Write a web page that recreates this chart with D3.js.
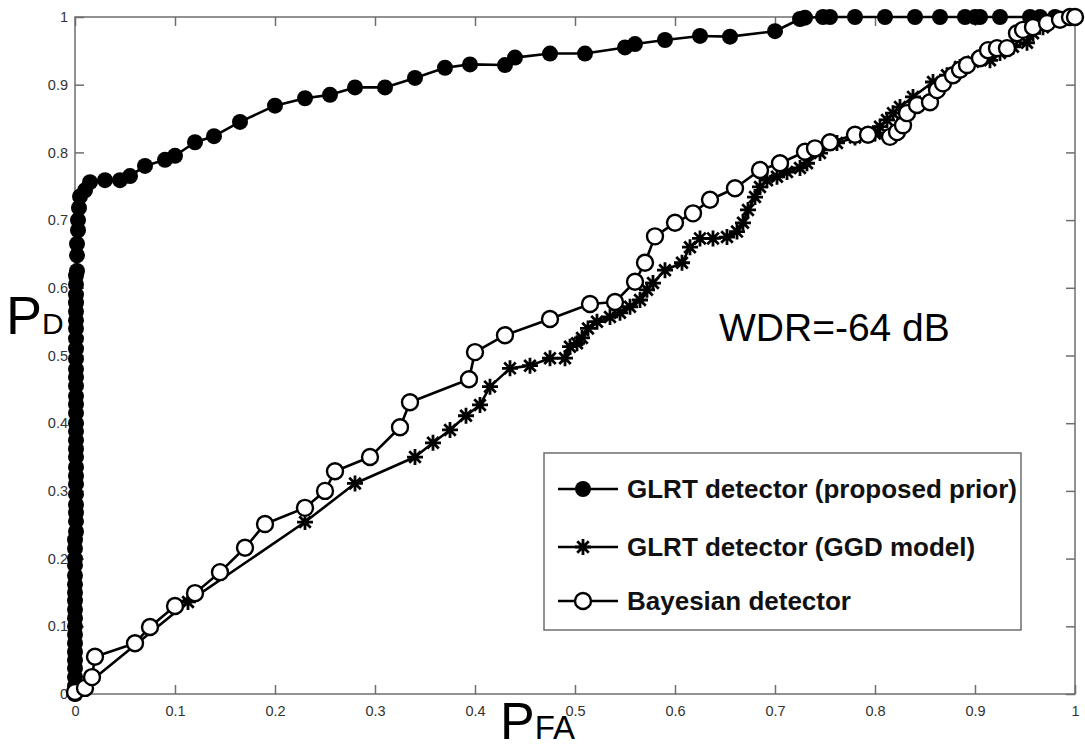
<!DOCTYPE html>
<html>
<head>
<meta charset="utf-8">
<script src="https://cdn.jsdelivr.net/npm/d3@7"></script>
<style>
  body { margin: 0; background: white; }
  svg { display: block; }
</style>
</head>
<body>
<div id="main"></div>
<script>
// ---- data ----
const glrtPriorPfa = [0,0,0,0,0,0,0,0,0,0,0,0,0,0,0,0,0,0,0,
    0.001,0.001,0.001,0.001,0.001,0.001,0.001,0.001,0.001,0.001,0.001,0.001,0.001,0.001,0.001,0.001,0.001,0.001,0.001,0.001,0.001,0.001,0.001,0.001,0.001,0.001,0.001,0.001,0.001,
    0.002,0.002,0.002,0.003,0.003,0.004,0.005,0.01,0.015,0.03,0.045,0.055,0.07,0.09,0.1,0.12,0.139,0.165,0.2,0.23,0.255,0.28,0.31,0.34,0.37,0.395,0.43,0.44,0.475,0.51,0.55,0.56,0.59,0.625,0.655,0.7,0.725,
    0.73,0.748,0.755,0.78,0.81,0.84,0.865,0.89,0.9,0.905,0.925,0.955,0.965,0.98,1];
const glrtPriorPd = [0,0.012,0.025,0.038,0.05,0.062,0.075,0.088,0.1,0.112,0.125,0.138,0.15,0.162,0.175,0.19,0.2,0.215,0.228,
    0.24,0.255,0.268,0.28,0.295,0.31,0.322,0.335,0.35,0.362,0.375,0.388,0.4,0.415,0.428,0.44,0.455,0.468,0.48,0.495,0.51,0.525,0.54,0.552,0.565,0.578,0.59,0.605,0.618,
    0.625,0.648,0.665,0.685,0.7,0.718,0.735,0.744,0.756,0.759,0.759,0.765,0.78,0.789,0.795,0.815,0.824,0.845,0.869,0.88,0.885,0.896,0.896,0.91,0.925,0.93,0.929,0.94,0.946,0.946,0.955,0.96,0.966,0.972,0.971,0.979,0.997,
    0.999,1,1,1,1,1,1,1,1,1,1,1,1,1,1];

const glrtGgdPfa = [0,0.113,0.23,0.28,0.34,0.358,0.375,0.391,0.405,0.415,0.435,0.455,0.475,0.49,0.495,0.502,0.507,0.513,0.522,0.535,0.545,0.555,0.565,0.572,0.578,0.59,0.607,0.615,0.625,0.638,0.652,0.662,0.668,0.673,0.68,0.685,0.692,0.702,0.712,0.725,0.732,0.745,0.762,0.78,0.8,0.805,0.812,0.818,0.825,0.838,0.858,0.872,0.885,0.898,0.915,0.925,0.938,0.952,0.958,0.968,0.985,0.998];
const glrtGgdPd = [0,0.136,0.254,0.311,0.35,0.371,0.39,0.411,0.427,0.454,0.481,0.485,0.496,0.496,0.513,0.518,0.526,0.54,0.55,0.557,0.563,0.572,0.582,0.597,0.607,0.626,0.637,0.66,0.673,0.673,0.675,0.683,0.696,0.715,0.734,0.749,0.759,0.764,0.771,0.777,0.784,0.799,0.814,0.822,0.828,0.838,0.848,0.858,0.867,0.882,0.904,0.914,0.926,0.934,0.936,0.947,0.956,0.962,0.976,0.985,0.996,1];

const bayesPfa = [0,0.01,0.017,0.02,0.06,0.075,0.1,0.12,0.145,0.17,0.19,0.23,0.25,0.26,0.295,0.325,0.335,0.394,0.4,0.43,0.475,0.515,0.54,0.56,0.57,0.58,0.6,0.618,0.635,0.66,0.685,0.705,0.73,0.74,0.755,0.78,0.793,0.815,0.822,0.828,0.832,0.842,0.855,0.862,0.868,0.878,0.885,0.892,0.905,0.913,0.922,0.932,0.942,0.948,0.958,0.972,0.985,0.995,1];
const bayesPd = [0.003,0.009,0.025,0.055,0.075,0.099,0.13,0.149,0.18,0.216,0.251,0.275,0.3,0.329,0.35,0.394,0.431,0.465,0.505,0.53,0.554,0.576,0.579,0.609,0.637,0.676,0.696,0.71,0.73,0.747,0.774,0.784,0.801,0.806,0.815,0.826,0.826,0.823,0.83,0.84,0.858,0.87,0.874,0.892,0.902,0.914,0.922,0.929,0.939,0.951,0.954,0.954,0.976,0.981,0.985,0.991,0.996,1,1];

const xTicks = [0, 0.1, 0.2, 0.3, 0.4, 0.5, 0.6, 0.7, 0.8, 0.9, 1];
const yTicks = [0, 0.1, 0.2, 0.3, 0.4, 0.5, 0.6, 0.7, 0.8, 0.9, 1];
const legendLabels = ["GLRT detector (proposed prior)", "GLRT detector (GGD model)", "Bayesian detector"];
const legendMarkers = ["dot", "star", "ring"];
const annotation = "WDR=-64 dB";

const ctx = {
    width : 1085,
    height : 744,
    left : 75,
    right : 1075,
    top : 17,
    bottom : 694,
    axisGrey : "#6e6e6e",
    labelGrey : "#333",
    font : "'Liberation Sans', Arial, Helvetica, sans-serif",
    markerR : 8,
    lineW : 2.6
}

function createViz(){
    let svg = d3.select("#main").append("svg")
        .attr("width", ctx.width)
        .attr("height", ctx.height);
    svg.append("rect")
        .attr("width", ctx.width)
        .attr("height", ctx.height)
        .attr("fill", "white");

    ctx.x = d3.scaleLinear().domain([0, 1]).range([ctx.left, ctx.right]);
    ctx.y = d3.scaleLinear().domain([0, 1]).range([ctx.bottom, ctx.top]);

    svg.append("g").attr("id", "axesG");
    svg.append("g").attr("id", "seriesG");
    svg.append("g").attr("id", "labelsG");
    svg.append("g").attr("id", "legendG");

    drawAxes();
    drawSeries(d3.zip(glrtPriorPfa, glrtPriorPd), "dot");
    drawSeries(d3.zip(glrtGgdPfa, glrtGgdPd), "star");
    drawSeries(d3.zip(bayesPfa, bayesPd), "ring");
    drawLabels();
    drawLegend();
}

//---------------------------------------------------------------------------------------------------------

function drawAxes(){
    let g = d3.select("#axesG");
    let tickLen = 9;
    let fmt = d => d === 0 || d === 1 ? d3.format("d")(d) : d3.format(".1f")(d);

    let bottomAxis = d3.axisBottom(ctx.x).tickValues(xTicks).tickSizeInner(-tickLen).tickSizeOuter(0).tickPadding(12).tickFormat(fmt);
    let leftAxis = d3.axisLeft(ctx.y).tickValues(yTicks).tickSizeInner(-tickLen).tickSizeOuter(0).tickPadding(7).tickFormat(fmt);
    let topAxis = d3.axisTop(ctx.x).tickValues(xTicks).tickSizeInner(-tickLen).tickSizeOuter(0).tickFormat("");
    let rightAxis = d3.axisRight(ctx.y).tickValues(yTicks).tickSizeInner(-tickLen).tickSizeOuter(0).tickFormat("");

    g.append("g").attr("transform", "translate(0," + ctx.bottom + ")").call(bottomAxis);
    g.append("g").attr("transform", "translate(" + ctx.left + ",0)").call(leftAxis);
    g.append("g").attr("transform", "translate(0," + ctx.top + ")").call(topAxis);
    g.append("g").attr("transform", "translate(" + ctx.right + ",0)").call(rightAxis);

    g.selectAll(".domain").remove();
    g.selectAll(".tick line").attr("stroke", ctx.axisGrey).attr("stroke-width", 1.5);
    g.selectAll(".tick text")
        .attr("fill", ctx.labelGrey)
        .attr("font-family", ctx.font)
        .attr("font-size", "14.5px");

    g.append("rect")
        .attr("x", ctx.left)
        .attr("y", ctx.top)
        .attr("width", ctx.right - ctx.left)
        .attr("height", ctx.bottom - ctx.top)
        .attr("fill", "none")
        .attr("stroke", ctx.axisGrey)
        .attr("stroke-width", 1.5);
}

function drawMarker(sel, kind){
    let r = ctx.markerR;
    if (kind === "dot"){
        sel.append("circle").attr("r", r).attr("fill", "black");
    } else if (kind === "ring"){
        sel.append("circle").attr("r", r).attr("fill", "white")
            .attr("stroke", "black").attr("stroke-width", 2.4);
    } else {
        let d = r * 0.72;
        sel.append("path")
            .attr("d", "M" + (-r) + ",0H" + r + "M0," + (-r) + "V" + r +
                       "M" + (-d) + "," + (-d) + "L" + d + "," + d +
                       "M" + (-d) + "," + d + "L" + d + "," + (-d))
            .attr("stroke", "black")
            .attr("stroke-width", 2.8)
            .attr("fill", "none");
    }
}

function drawSeries(points, kind){
    let g = d3.select("#seriesG").append("g");
    let line = d3.line().x(d => ctx.x(d[0])).y(d => ctx.y(d[1]));
    g.append("path")
        .datum(points)
        .attr("d", line)
        .attr("fill", "none")
        .attr("stroke", "black")
        .attr("stroke-width", ctx.lineW)
        .attr("stroke-linejoin", "round");
    g.selectAll("g.marker")
        .data(points)
        .enter()
        .append("g")
        .attr("class", "marker")
        .attr("transform", d => "translate(" + ctx.x(d[0]) + "," + ctx.y(d[1]) + ")")
        .each(function(){ drawMarker(d3.select(this), kind); });
}

//---------------------------------------------------------------------------------------------------------

function drawLabels(){
    let g = d3.select("#labelsG");

    let pd = g.append("text")
        .attr("x", 6)
        .attr("y", 334)
        .attr("font-family", ctx.font)
        .attr("fill", "black");
    pd.append("tspan").attr("font-size", "54px").text("P");
    pd.append("tspan").attr("font-size", "30px").text("D");

    let pfa = g.append("text")
        .attr("x", 500)
        .attr("y", 739)
        .attr("font-family", ctx.font)
        .attr("fill", "black");
    pfa.append("tspan").attr("font-size", "52px").text("P");
    pfa.append("tspan").attr("font-size", "33px").text("FA");

    g.append("text")
        .attr("x", 719)
        .attr("y", 341)
        .attr("font-family", ctx.font)
        .attr("font-size", "39px")
        .attr("fill", "black")
        .text(annotation);
}

function drawLegend(){
    let g = d3.select("#legendG").attr("transform", "translate(544, 453)");
    g.append("rect")
        .attr("x", 0)
        .attr("y", 0)
        .attr("width", 477)
        .attr("height", 177)
        .attr("fill", "white")
        .attr("stroke", ctx.axisGrey)
        .attr("stroke-width", 1.5);

    let rowY = [36, 94, 148];
    let rows = g.selectAll("g.row")
        .data(legendLabels)
        .enter()
        .append("g")
        .attr("class", "row")
        .attr("transform", (d, i) => "translate(0," + rowY[i] + ")");
    rows.append("line")
        .attr("x1", 14).attr("x2", 74)
        .attr("stroke", "black").attr("stroke-width", ctx.lineW);
    rows.append("g")
        .attr("transform", "translate(39,0)")
        .each(function(d, i){ drawMarker(d3.select(this), legendMarkers[i]); });
    rows.append("text")
        .attr("x", 83)
        .attr("y", 9)
        .attr("font-family", ctx.font)
        .attr("font-weight", "bold")
        .attr("font-size", "26px")
        .attr("fill", "#111")
        .text(d => d);
}

createViz();
</script>
</body>
</html>
